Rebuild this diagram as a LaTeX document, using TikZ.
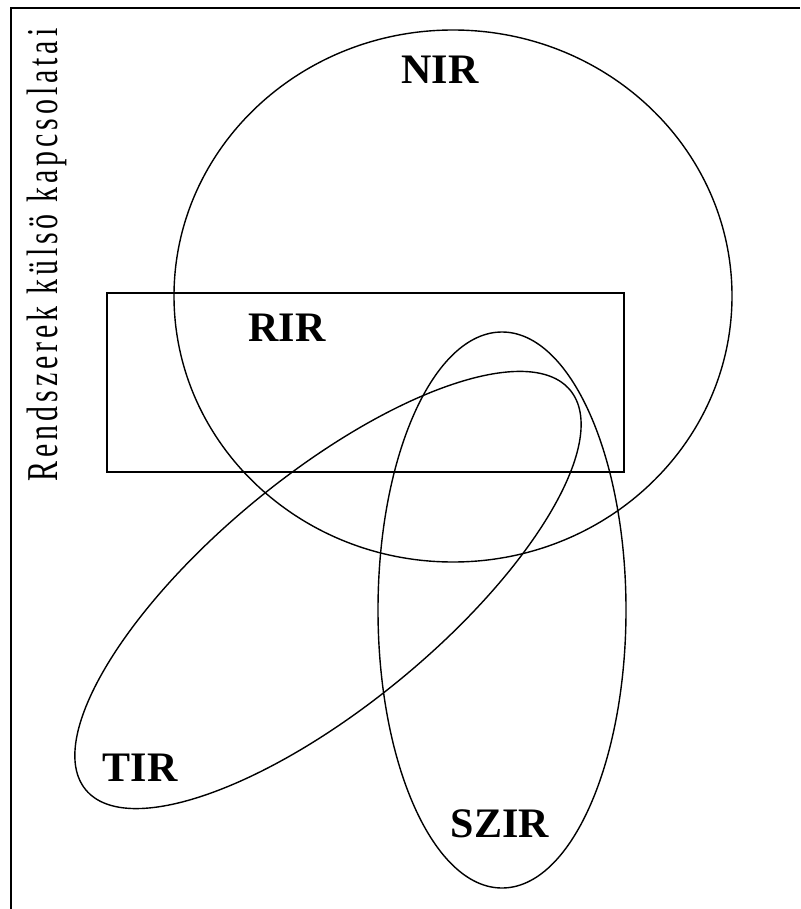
\documentclass[tikz,border=0pt]{standalone}
\usepackage{fontspec}
\setmainfont{Liberation Serif}
\newfontfamily\oldalfont[FakeStretch=0.68,LetterSpace=9]{Liberation Serif}
\usetikzlibrary{positioning}

\begin{document}
\begin{tikzpicture}[x=1pt,y=-1pt,
  halmaz/.style={line width=1.4pt},
  keret/.style={line width=2.4pt},
  cimke/.style={font=\fontsize{42}{42}\selectfont\bfseries}]
\useasboundingbox (0,0) rectangle (800,909);

\coordinate (Nk) at (453,296);
\coordinate (Sk) at (502,610);
\coordinate (Tk) at (328,590);
\coordinate (Rbf) at (107,293);
\coordinate (Rja) at (624,472);

% keret
\draw[keret] (11,909) -- (11,8) -- (800,8);

% halmazok
\draw[halmaz] (Nk) ellipse [x radius=279pt, y radius=266pt];
\draw[halmaz] (Rbf) rectangle (Rja);
\draw[halmaz] (Sk) ellipse [x radius=124pt, y radius=278pt];
\draw[halmaz, rotate around={39.5:(Tk)}] (Tk) ellipse [x radius=314pt, y radius=115pt];

\node[cimke] (nir) at (440,70) {NIR};
\node[cimke] (rir) at (287,328) {RIR};
\node[cimke] (tir) at (140,768) {TIR};
\node[cimke] (szir) at (500,824) {SZIR};

\node[rotate=90, font=\oldalfont\fontsize{44}{44}\selectfont] (kapcs) at (47,255) {Rendszerek külsö kapcsolatai};
\end{tikzpicture}
\end{document}
